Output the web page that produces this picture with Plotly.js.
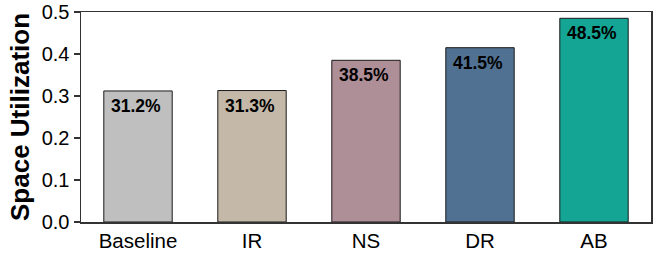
<!DOCTYPE html>
<html>
<head>
<meta charset="utf-8">
<script src="https://cdn.plot.ly/plotly-3.0.1.min.js"></script>
<style>html,body{margin:0;padding:0;background:#fff}#chart{width:660px;height:255px}</style>
</head>
<body>
<div id="chart"></div>
<script>
const categories = ["Baseline", "IR", "NS", "DR", "AB"];
const utilization = [0.312, 0.313, 0.385, 0.415, 0.485];
const labels = ["31.2%", "31.3%", "38.5%", "41.5%", "48.5%"];
const colors = ["#bfbfbf", "#c4b9a9", "#ae8e97", "#507192", "#14a594"];
const yTicks = [0, 0.1, 0.2, 0.3, 0.4, 0.5];

const trace = {
  type: "bar",
  x: categories,
  y: utilization,
  marker: {color: colors, line: {color: "#1a1a1a", width: 1}},
  width: 0.6,
  hoverinfo: "none"
};

const annotations = categories.map((c, i) => ({
  x: c, y: utilization[i], xref: "x", yref: "y",
  text: labels[i], showarrow: false,
  yanchor: "top", xanchor: "center", yshift: -3, xshift: -2,
  font: {family: "Liberation Sans, Arial, sans-serif", size: 17.5, color: "#000", weight: "bold"}
}));

const layout = {
  width: 660, height: 255,
  margin: {l: 81, r: 9, t: 12, b: 33, pad: 0},
  paper_bgcolor: "#fff", plot_bgcolor: "#fff",
  showlegend: false,
  font: {family: "Liberation Sans, Arial, sans-serif", color: "#000"},
  annotations: annotations,
  xaxis: {
    type: "category",
    range: [-0.5, 4.5],
    showline: true, linecolor: "#333", linewidth: 1.5, mirror: true,
    ticks: "", showgrid: false, zeroline: false,
    tickfont: {size: 20.5, color: "#000"}
  },
  yaxis: {
    range: [0, 0.5],
    tickvals: yTicks, tickformat: ".1f",
    ticks: "outside", ticklen: 6, tickwidth: 1.2, tickcolor: "#333",
    showline: true, linecolor: "#333", linewidth: 1.5, mirror: true,
    showgrid: false, zeroline: false,
    tickfont: {size: 20, color: "#000"},
    title: {text: "Space Utilization", font: {size: 26, weight: "bold", color: "#000"}, standoff: 4}
  }
};

Plotly.newPlot("chart", [trace], layout, {staticPlot: true, displayModeBar: false});
</script>
</body>
</html>
